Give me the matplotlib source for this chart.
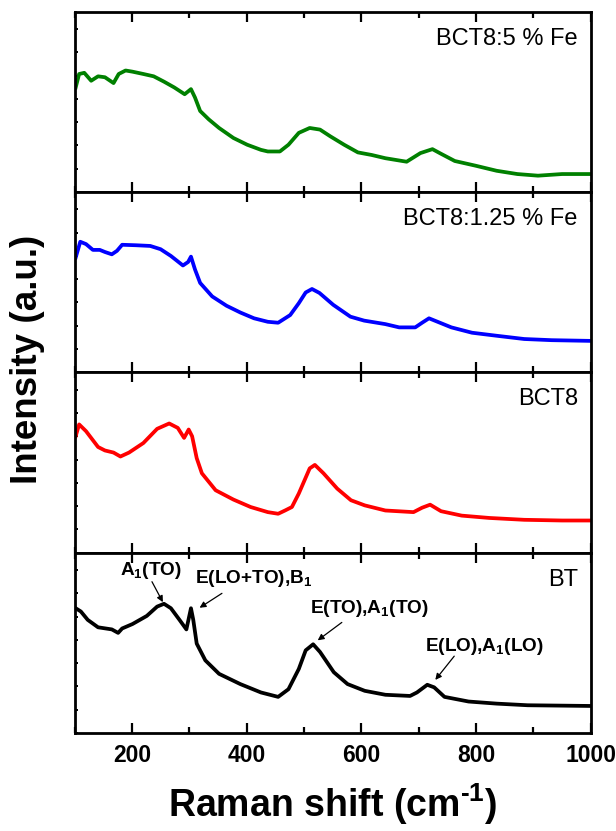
import matplotlib.pyplot as plt
from matplotlib.ticker import MultipleLocator

plt.rcParams['font.family'] = ['Liberation Sans', 'DejaVu Sans']
plt.rcParams['mathtext.fontset'] = 'custom'
plt.rcParams['mathtext.rm'] = 'Liberation Sans:bold'
plt.rcParams['mathtext.it'] = 'Liberation Sans:bold'
plt.rcParams['mathtext.bf'] = 'Liberation Sans:bold'

# Raman shift (cm-1) and intensity (a.u.), per sample
fe5_x = [102, 108, 117, 129, 141, 153, 168, 177, 189, 201, 220, 238, 256, 274, 292, 303, 310, 319,
         334, 352, 377, 401, 425, 437, 458, 473, 491, 510, 528, 546, 570, 594, 618, 642, 679, 703,
         724, 739, 763, 799, 836, 872, 908, 950, 999]
fe5_y = [4.49, 5.07, 5.12, 4.78, 4.97, 4.93, 4.68, 5.07, 5.22, 5.17, 5.07, 4.97, 4.74, 4.49, 4.20,
         4.42, 4.06, 3.48, 3.12, 2.75, 2.32, 2.03, 1.81, 1.74, 1.74, 2.03, 2.54, 2.75, 2.68, 2.39,
         2.03, 1.70, 1.59, 1.45, 1.30, 1.67, 1.84, 1.64, 1.33, 1.13, 0.91, 0.77, 0.70, 0.77, 0.77]

fe125_x = [102, 110, 120, 132, 144, 153, 165, 174, 183, 207, 232, 250, 268, 289, 298, 303, 310, 319,
           340, 365, 389, 413, 437, 455, 476, 491, 503, 514, 527, 551, 581, 605, 642, 666, 694, 706,
           718, 733, 757, 793, 836, 884, 932, 999]
fe125_y = [4.93, 5.61, 5.51, 5.26, 5.26, 5.17, 5.07, 5.22, 5.48, 5.46, 5.43, 5.29, 5.00, 4.59, 4.74,
           4.97, 4.42, 3.84, 3.26, 2.86, 2.57, 2.32, 2.17, 2.13, 2.46, 2.97, 3.43, 3.58, 3.41, 2.90,
           2.39, 2.22, 2.07, 1.93, 1.93, 2.13, 2.32, 2.17, 1.93, 1.70, 1.57, 1.43, 1.38, 1.35]

bct8_x = [102, 108, 120, 141, 153, 168, 180, 195, 220, 244, 265, 280, 291, 299, 305, 313, 322, 346,
          377, 407, 437, 455, 467, 479, 491, 510, 519, 534, 558, 582, 606, 642, 691, 706, 720, 739,
          775, 823, 884, 950, 999]
bct8_y = [5.00, 5.51, 5.22, 4.54, 4.39, 4.30, 4.13, 4.30, 4.71, 5.32, 5.55, 5.36, 4.93, 5.29, 5.00,
          4.06, 3.41, 2.68, 2.28, 1.96, 1.74, 1.67, 1.81, 1.96, 2.54, 3.62, 3.77, 3.41, 2.75, 2.25,
          2.03, 1.81, 1.74, 1.93, 2.06, 1.78, 1.59, 1.49, 1.41, 1.38, 1.38]

bt_x = [102, 111, 123, 141, 165, 176, 183, 201, 226, 244, 256, 268, 283, 295, 303, 307, 313, 328,
        352, 389, 425, 455, 473, 491, 503, 516, 528, 552, 576, 606, 642, 685, 697, 715, 727, 745,
        787, 836, 890, 999]
bt_y = [5.36, 5.22, 4.86, 4.54, 4.45, 4.30, 4.49, 4.68, 5.03, 5.43, 5.55, 5.36, 4.86, 4.45, 5.36,
        4.86, 3.84, 3.12, 2.54, 2.10, 1.74, 1.55, 1.88, 2.75, 3.55, 3.81, 3.48, 2.61, 2.10, 1.81,
        1.64, 1.59, 1.74, 2.07, 1.96, 1.55, 1.35, 1.26, 1.19, 1.16]

names = ['BCT8:5 % Fe', 'BCT8:1.25 % Fe', 'BCT8', 'BT']
colors = ['#008000', '#0000ff', '#ff0000', '#000000']
xs = [fe5_x, fe125_x, bct8_x, bt_x]
ys = [fe5_y, fe125_y, bct8_y, bt_y]

# mode labels on BT: text, text position, arrow tail, arrow head
modes = ['A$_1$(TO)', 'E(LO+TO),B$_1$', 'E(TO),A$_1$(TO)', 'E(LO),A$_1$(LO)']
mode_text = [(233, 7.0), (413, 6.62), (615, 5.33), (815, 3.70)]
mode_tail = [(235, 6.5), (357, 6.0), (566, 4.75), (762, 3.3)]
mode_head = [(254, 5.62), (318, 5.38), (524, 3.98), (729, 2.28)]

fig, axes = plt.subplots(4, 1, sharex=True, figsize=(6.16, 8.31), dpi=100)
fig.subplots_adjust(left=0.121, right=0.959, top=0.986, bottom=0.118, hspace=0)

for ax, x, y, c, name in zip(axes, xs, ys, colors, names):
    ax.plot(x, y, color=c, lw=2.7)
    ax.set_xlim(100, 1000)
    ax.set_ylim(0, 7.75)
    ax.xaxis.set_major_locator(MultipleLocator(200))
    ax.xaxis.set_minor_locator(MultipleLocator(100))
    ax.yaxis.set_major_locator(MultipleLocator(1))
    ax.tick_params(axis='x', which='major', direction='in', top=True, length=7, width=1.6,
                   labelsize=16.5, pad=8)
    ax.tick_params(axis='x', which='minor', direction='in', top=True, length=4, width=1.6)
    ax.tick_params(axis='y', which='major', direction='in', length=2.5, width=1.4, labelleft=False)
    for s in ax.spines.values():
        s.set_linewidth(2)
    ax.text(0.975, 0.85, name, transform=ax.transAxes, ha='right', va='center', fontsize=17)

for lab in axes[-1].get_xticklabels():
    lab.set_fontweight('bold')

bt = axes[-1]
for t, tp, tl, hd in zip(modes, mode_text, mode_tail, mode_head):
    bt.text(tp[0], tp[1], t, ha='center', va='center', fontsize=13.7, fontweight='bold')
    bt.annotate('', xy=hd, xytext=tl,
                arrowprops=dict(arrowstyle='-|>', color='k', lw=0.9, mutation_scale=9,
                                shrinkA=0, shrinkB=0))

bt.set_xlabel(r'Raman shift (cm$^{\text{-}1}$)', fontsize=27, fontweight='bold', labelpad=10)
fig.text(0.045, 0.567, 'Intensity (a.u.)', rotation=90, ha='center', va='center',
         fontsize=26.5, fontweight='bold')

fig.savefig('out.png', dpi=100)
